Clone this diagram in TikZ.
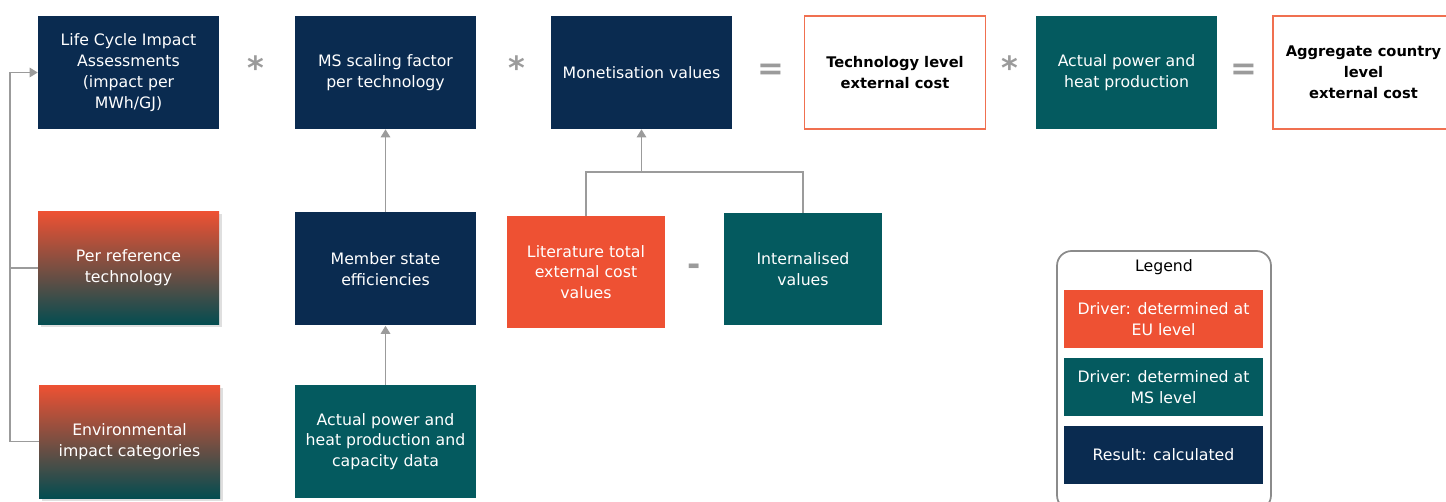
\documentclass[tikz,border=0pt]{standalone}
\usepackage{fontspec}
\setmainfont{DejaVu Sans}
\usetikzlibrary{arrows.meta,shadows}
\definecolor{navy}{HTML}{0A2B50}
\definecolor{petrol}{HTML}{045A5F}
\definecolor{flame}{HTML}{EE5133}
\definecolor{rim}{HTML}{F07050}
\definecolor{wire}{HTML}{9B9B9B}
\tikzset{
  box/.style={rectangle, minimum width=135.75pt, minimum height=84.75pt,
    align=center, text=white, font=\fontsize{11.8}{15.6}\selectfont, inner sep=2pt},
  navybox/.style={box, fill=navy},
  petrolbox/.style={box, fill=petrol},
  flamebox/.style={box, fill=flame},
  gradbox/.style={box, top color=flame, bottom color=petrol!85!black,
    drop shadow={shadow xshift=2pt, shadow yshift=-2pt, opacity=0.25}},
  outbox/.style={box, fill=white, draw=rim, line width=1.2pt, text=black,
    font=\fontsize{11}{15.6}\selectfont\bfseries},
  keybox/.style={box, minimum width=149.25pt, minimum height=43.5pt},
  op/.style={text=wire, font=\fontsize{24}{24}\selectfont\bfseries, inner sep=0pt},
  link/.style={draw=wire, line width=1.3pt},
  feed/.style={link, -{Triangle[width=7pt,length=6pt]}}
}
\begin{document}
\begin{tikzpicture}[x=0.75pt,y=-0.75pt]
  \useasboundingbox (0,0) rectangle (1446,502);
  % top row
  \node[navybox] (lcia) at (128.5,72.5) {Life Cycle Impact\\Assessments\\(impact per\\MWh/GJ)};
  \node[navybox] (scale) at (385.5,72.5) {MS scaling factor\\per technology};
  \node[navybox] (mon) at (641.5,72.5) {Monetisation values};
  \node[outbox] (tech) at (895,72.5) {Technology level\\external cost};
  \node[petrolbox] (prod) at (1126.5,72.5) {Actual power and\\heat production};
  \node[outbox] (agg) at (1363.5,72.5) {Aggregate country\\level\\external cost};
  \node[op] (m1) at (256,68) {*};
  \node[op] (m2) at (517,68) {*};
  \node[op] (e1) at (771,72) {=};
  \node[op] (m3) at (1010,68) {*};
  \node[op] (e2) at (1244,72) {=};
  % drivers
  \node[gradbox] (ref) at (128.5,268) {Per reference\\technology};
  \node[gradbox] (env) at (129.5,441.5) {Environmental\\impact categories};
  \node[navybox] (eff) at (385.5,269) {Member state\\efficiencies};
  \node[petrolbox] (cap) at (385.5,441.5) {Actual power and\\heat production and\\capacity data};
  \node[flamebox, minimum width=118.5pt, minimum height=84pt] (lit) at (586,272) {Literature total\\external cost\\values};
  \node[op] (minus) at (694,270) {-};
  \node[petrolbox, minimum width=118.5pt, minimum height=84pt] (intl) at (803,269) {Internalised\\values};
  % connectors
  \coordinate (spine) at (10,72.5);
  \coordinate (join) at (641.5,172);
  \draw[feed] (env.west) -| (spine) -- (lcia.west);
  \draw[link] (ref.west) -- (ref.west -| spine);
  \draw[feed] (eff.north) -- (scale.south);
  \draw[feed] (cap.north) -- (eff.south);
  \draw[link] (lit.north) |- (join);
  \draw[link] (intl.north) |- (join);
  \draw[feed] (join) -- (mon.south);
  % legend
  \draw[draw=wire!90!black, line width=1.3pt, rounded corners=11pt] (1057,251) rectangle (1271,510);
  \node[text=black, font=\fontsize{11.8}{15.6}\selectfont] (legend) at (1164,267) {Legend};
  \node[flamebox, keybox] (keyeu) at (1163.5,319) {Driver: determined at\\EU level};
  \node[petrolbox, keybox] (keyms) at (1163.5,387) {Driver: determined at\\MS level};
  \node[navybox, keybox] (keycalc) at (1163.5,455) {Result: calculated};
\end{tikzpicture}
\end{document}
